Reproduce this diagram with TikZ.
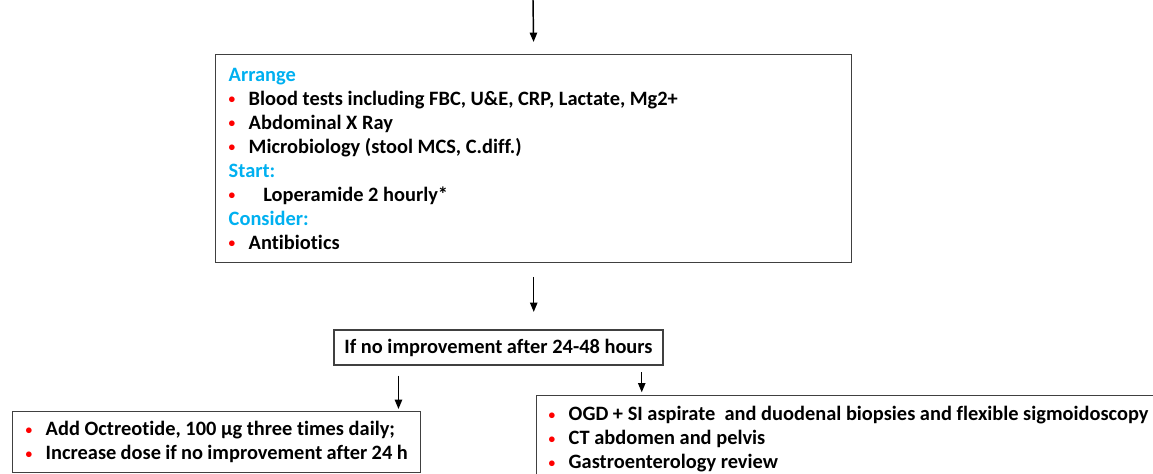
\documentclass[tikz,border=0pt]{standalone}
\usepackage{fontspec}
\setmainfont[Ligatures=NoCommon]{Carlito}
\usetikzlibrary{arrows.meta}
\definecolor{headblue}{HTML}{00B0F0}
\definecolor{dotred}{HTML}{FF0000}
\definecolor{boxgray}{HTML}{404040}
\newcommand{\hd}[1]{\textcolor{headblue}{#1}}
\newcommand{\itm}[2][15pt]{\makebox[#1][l]{\raisebox{1pt}{\textcolor{dotred}{\fontsize{10pt}{10pt}\selectfont\textbullet}}}#2}
\tikzset{
    box/.style={draw=boxgray, line width=1.1pt, rectangle, align=flush left, inner ysep=0pt,
        font=\fontsize{15.3pt}{18pt}\selectfont\bfseries},
    arr/.style={-{Triangle[length=7pt,width=5.5pt]}, black, line width=1.1pt}
}

\begin{document}
\begin{tikzpicture}[x=0.75pt,y=-0.75pt]
\useasboundingbox (0,0) rectangle (1153,474);
\clip (0,0) rectangle (1153,474);

\coordinate (top) at (533,0);
\node[box,anchor=north west,inner xsep=9.75pt,text width=457.5pt,minimum height=156pt] at (215,54) (plan) {%
\hd{Arrange}\\
\itm{Blood tests including FBC, U\&E, CRP, Lactate, Mg2+}\\
\itm{Abdominal X Ray}\\
\itm{Microbiology (stool MCS, C.diff.)}\\
\hd{Start:}\\
\itm[26pt]{Loperamide 2 hourly*}\\
\hd{Consider:}\\
\itm{Antibiotics}};
\draw[arr,shorten >=9pt] (top) -- (plan.north);

\node[box,minimum width=246.75pt,minimum height=26.25pt,align=center] at (498.5,347.5) (noimp) {If no improvement after 24-48 hours};
\draw[arr,shorten <=10pt,shorten >=13pt] (plan.south) -- (noimp.north -| plan.south);

\node[box,anchor=north west,inner xsep=9.75pt,text width=286.5pt,minimum height=45.75pt] at (12,411) (octr) {%
\itm{Add Octreotide, 100 µg three times daily;}\\
\itm{Increase dose if no improvement after 24 h}};
\draw[arr,shorten <=7.5pt,shorten >=1.5pt] ([xshift=-17.25pt]noimp.south -| octr.north east) -- ([xshift=-17.25pt]octr.north east);

\node[box,anchor=north west,inner xsep=9pt,inner ysep=7.75pt,text width=500pt] at (536,395) (endo) {%
\itm{OGD + SI aspirate\ \ and duodenal biopsies and flexible sigmoidoscopy}\\
\itm{CT abdomen and pelvis}\\
\itm{Gastroenterology review}};
\draw[arr,shorten <=5pt,shorten >=2pt] ([xshift=-16.5pt]noimp.south east) -- ([xshift=-16.5pt]noimp.south east |- endo.north);
\end{tikzpicture}
\end{document}
